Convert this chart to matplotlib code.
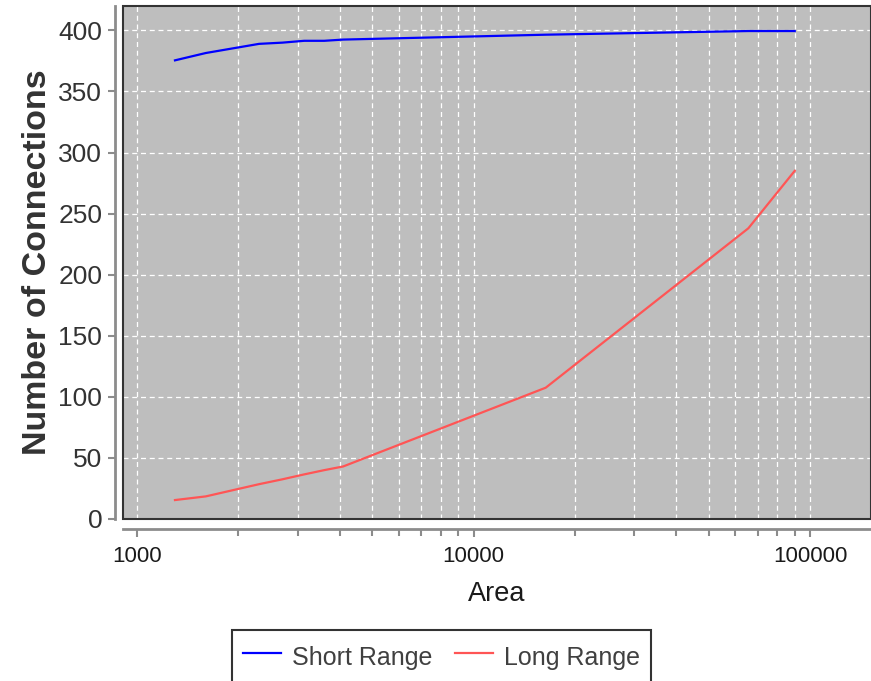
import matplotlib
matplotlib.use("Agg")
import matplotlib.pyplot as plt
from matplotlib.patches import Rectangle
from matplotlib.ticker import LogLocator, FixedLocator, NullFormatter

plt.rcParams['font.family'] = ['Liberation Sans', 'DejaVu Sans']

# data
area = [1296, 1600, 2304, 2704, 3136, 3600, 4096, 16384, 65536, 90000]
short_range = [375.5, 381.5, 389, 390, 391.5, 391.5, 392.5, 396.5, 399.5, 399.5]
long_range = [15.5, 18.5, 28.5, 32.5, 36.5, 40, 43, 107.5, 238, 285]
y_ticks = [0, 50, 100, 150, 200, 250, 300, 350, 400]
x_ticks = [1000, 10000, 100000]

fig = plt.figure(figsize=(8.71, 6.81), dpi=100)
ax = fig.add_axes([0.1412, 0.2379, 0.8588, 0.7533])
ax.set_facecolor("#BEBEBE")

ax.plot(area, short_range, color="#0000FF", lw=1.6, label="Short Range")
ax.plot(area, long_range, color="#FF5555", lw=1.6, label="Long Range")

ax.set_xscale("log")
ax.set_xlim(908, 151700)
ax.set_ylim(0, 420)
ax.xaxis.set_major_locator(FixedLocator(x_ticks))
ax.xaxis.set_minor_locator(LogLocator(base=10, subs=range(2, 10)))
ax.xaxis.set_minor_formatter(NullFormatter())
ax.set_xticklabels([str(v) for v in x_ticks])
ax.set_yticks(y_ticks)

ax.grid(True, which="major", color="white", linestyle=(0, (4, 3)), lw=0.9)
ax.grid(True, which="minor", axis="x", color="white", linestyle=(0, (4, 3)), lw=0.9)
ax.axhline(0, color="#1a1a40", lw=1.2, zorder=3)

for s in ["top", "right"]:
    ax.spines[s].set_visible(False)
ax.spines["left"].set_position(("outward", 6))
ax.spines["bottom"].set_position(("outward", 7.5))
for s in ["left", "bottom"]:
    ax.spines[s].set_color("#8c8c8c")
    ax.spines[s].set_linewidth(2)

ax.tick_params(axis="both", which="both", direction="out", color="#8c8c8c", width=1.5)
ax.tick_params(axis="y", length=5, labelsize=19, labelcolor="#333333", pad=4)
ax.tick_params(axis="x", which="major", length=6, labelsize=16, labelcolor="#1a1a1a", pad=6)
ax.tick_params(axis="x", which="minor", length=5)

ax.add_patch(Rectangle((0, 0), 1, 1, transform=ax.transAxes, fill=False,
                       edgecolor="#333333", lw=1.5, clip_on=False, zorder=4))

ax.set_ylabel("Number of Connections", fontsize=24.5, fontweight="bold", color="#333333", labelpad=4)
ax.set_xlabel("Area", fontsize=19.5, color="#1a1a1a", labelpad=10)

leg = fig.legend(loc="upper center", bbox_to_anchor=(0.507, 0.0749), ncol=2,
                 fontsize=18, frameon=True, fancybox=False, handlelength=1.5,
                 handleheight=1.5, handletextpad=0.45, columnspacing=0.9,
                 borderpad=0.46, borderaxespad=0.0)
leg.get_frame().set_edgecolor("black")
leg.get_frame().set_linewidth(1.5)
for t in leg.get_texts():
    t.set_color("#404040")

fig.savefig("out.png", dpi=100)
